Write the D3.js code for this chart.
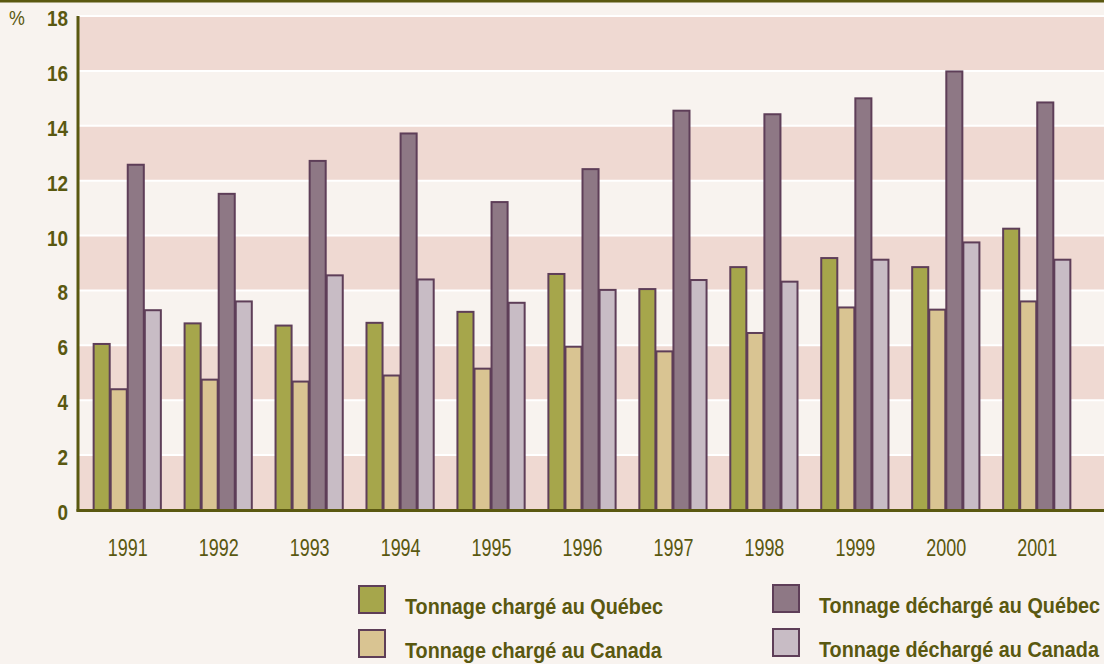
<!DOCTYPE html>
<meta charset="utf-8">
<script src="https://cdnjs.cloudflare.com/ajax/libs/d3/7.8.5/d3.min.js"></script>
<style>
  body { margin: 0; background: #f8f3ef; }
  svg { display: block; font-family: "Liberation Sans", Arial, sans-serif; }
</style>
<div id="chart"></div>
<script>
// data (% of tonnage)
const years = ["1991", "1992", "1993", "1994", "1995", "1996", "1997", "1998", "1999", "2000", "2001"];
const chargeQc = [6.05, 6.8, 6.72, 6.82, 7.22, 8.6, 8.05, 8.85, 9.18, 8.85, 10.25];
const chargeCa = [4.4, 4.75, 4.68, 4.9, 5.15, 5.95, 5.78, 6.45, 7.38, 7.3, 7.6];
const dechargeQc = [12.58, 11.52, 12.72, 13.72, 11.22, 12.42, 14.55, 14.42, 15.0, 15.98, 14.85];
const dechargeCa = [7.28, 7.6, 8.55, 8.4, 7.55, 8.02, 8.38, 8.32, 9.12, 9.75, 9.12];
const yTicks = [0, 2, 4, 6, 8, 10, 12, 14, 16, 18];

const seriesNames = ["Tonnage chargé au Québec", "Tonnage chargé au Canada",
                     "Tonnage déchargé au Québec", "Tonnage déchargé au Canada"];
const seriesValues = [chargeQc, chargeCa, dechargeQc, dechargeCa];
const colors = ["#a6a64b", "#d9c492", "#8e7885", "#c8bcc5"];
const olive = "#5a5810";
const barStroke = "#5e3e58";

const W = 1104, H = 664;
const svg = d3.select("#chart").append("svg").attr("width", W).attr("height", H);

svg.append("rect").attr("width", W).attr("height", H).attr("fill", "#f8f3ef");
svg.append("rect").attr("width", W).attr("height", 2.5).attr("fill", olive);

const plotL = 78, plotR = W, plotT = 16, plotB = 510;

const y = d3.scaleLinear().domain([0, 18]).range([plotB, plotT]);
const x0 = d3.scaleBand().domain(years).range([79, 1084]).paddingInner(0.25).paddingOuter(0.15);
const x1 = d3.scaleBand().domain(d3.range(4)).range([0, x0.bandwidth()]);

// alternating bands
const bands = d3.range(0, 18, 2);
svg.selectAll(".band").data(bands).join("rect")
  .attr("x", plotL).attr("width", plotR - plotL)
  .attr("y", d => y(d + 2)).attr("height", d => y(d) - y(d + 2))
  .attr("fill", (d, i) => i % 2 === 0 ? "#efd9d2" : "#f8f3ef");
svg.selectAll(".grid").data(yTicks).join("line")
  .attr("x1", plotL).attr("x2", plotR)
  .attr("y1", d => y(d)).attr("y2", d => y(d))
  .attr("stroke", "#ffffff").attr("stroke-width", 2);

// bars
const groups = svg.selectAll(".yr").data(years).join("g")
  .attr("transform", d => `translate(${x0(d)},0)`);
groups.selectAll("rect").data((d, i) => seriesValues.map((s, k) => ({ k, v: s[i] })))
  .join("rect")
  .attr("x", d => x1(d.k) + 1)
  .attr("width", x1.bandwidth() - 1)
  .attr("y", d => y(d.v))
  .attr("height", d => y(0) - y(d.v))
  .attr("fill", d => colors[d.k])
  .attr("stroke", barStroke).attr("stroke-width", 2);

// axes lines
svg.append("line").attr("x1", plotL).attr("x2", plotL).attr("y1", plotT).attr("y2", plotB + 1.5)
  .attr("stroke", olive).attr("stroke-width", 3);
svg.append("line").attr("x1", plotL - 1.5).attr("x2", plotR).attr("y1", plotB + 0.5).attr("y2", plotB + 0.5)
  .attr("stroke", olive).attr("stroke-width", 3);

// y tick labels
svg.selectAll(".ytick").data(yTicks).join("text")
  .attr("transform", d => `translate(68,${y(d) + 10}) scale(0.86,1)`)
  .attr("text-anchor", "end")
  .attr("font-size", 22).attr("font-weight", "bold").attr("fill", olive)
  .text(d => d);
svg.append("text").attr("transform", "translate(9,25) scale(0.85,1)")
  .attr("font-size", 21).attr("fill", olive).text("%");

// year labels
svg.selectAll(".xtick").data(years).join("text")
  .attr("transform", d => `translate(${x0(d) + x0.bandwidth() / 2 + 1},556) scale(0.78,1)`)
  .attr("text-anchor", "middle")
  .attr("font-size", 23).attr("fill", olive)
  .text(d => d);

// legend
const legPos = [[359, 586], [359, 630], [773, 585], [773, 629]];
seriesNames.forEach((name, k) => {
  const [lx, ly] = legPos[k];
  svg.append("rect").attr("x", lx).attr("y", ly).attr("width", 26).attr("height", 27)
    .attr("fill", colors[k]).attr("stroke", barStroke).attr("stroke-width", 2);
  svg.append("text")
    .attr("transform", `translate(${lx + 46},${ly + 28}) scale(0.9,1)`)
    .attr("font-size", 22).attr("font-weight", "bold").attr("fill", olive)
    .text(name);
});
</script>
